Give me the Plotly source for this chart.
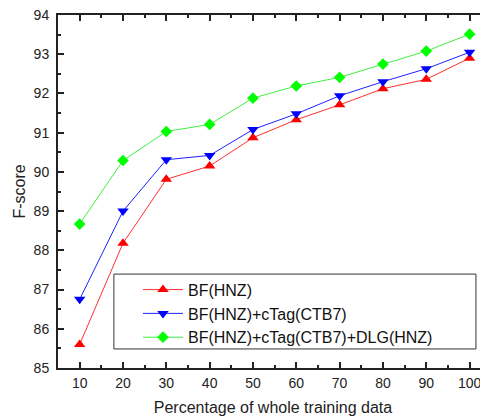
import plotly.graph_objects as go

x_pct = [10, 20, 30, 40, 50, 60, 70, 80, 90, 100]
bf_hnz = [85.60, 88.18, 89.81, 90.15, 90.87, 91.33, 91.71, 92.12, 92.36, 92.90]
bf_ctag = [86.75, 89.00, 90.31, 90.42, 91.08, 91.48, 91.94, 92.30, 92.63, 93.05]
bf_ctag_dlg = [88.67, 90.29, 91.03, 91.21, 91.88, 92.19, 92.41, 92.75, 93.08, 93.51]

names = ["BF(HNZ)", "BF(HNZ)+cTag(CTB7)", "BF(HNZ)+cTag(CTB7)+DLG(HNZ)"]
series = [bf_hnz, bf_ctag, bf_ctag_dlg]
line_colors = ["#ff3030", "#2020ff", "#40f040"]
marker_colors = ["#ff0000", "#0000ff", "#00ff00"]
symbols = ["triangle-up", "triangle-down", "diamond"]
sizes = [10, 10, 9]

fig = go.Figure()
for n, s, lc, mc, sym, sz in zip(names, series, line_colors, marker_colors, symbols, sizes):
    fig.add_trace(go.Scatter(
        x=x_pct, y=s, name=n, mode="lines+markers",
        line=dict(color=lc, width=1),
        marker=dict(symbol=sym, size=sz, color=mc, line=dict(width=0)),
    ))
# invisible trace to anchor right-side tick axis
fig.add_trace(go.Scatter(x=[x_pct[0]], y=[bf_hnz[0]], yaxis="y2", mode="markers",
                         marker=dict(opacity=0), showlegend=False, hoverinfo="skip"))

font_family = "Liberation Sans, Arial, sans-serif"
fig.update_layout(
    width=480, height=411,
    margin=dict(l=50, r=0, t=7, b=51),
    plot_bgcolor="white", paper_bgcolor="white",
    font=dict(family=font_family, color="#222222"),
    showlegend=True,
    legend=dict(
        x=0.186, y=0.270, xanchor="left", yanchor="top",
        borderwidth=0, bgcolor="rgba(0,0,0,0)",
        font=dict(size=16, family=font_family, color="#111111"),
        tracegroupgap=0, itemwidth=40,
    ),
    shapes=[dict(type="rect", xref="paper", yref="paper",
                 x0=0.130, x1=0.972, y0=0.054, y1=0.266,
                 line=dict(color="#333333", width=1), fillcolor="rgba(0,0,0,0)", layer="above")],
    xaxis=dict(
        range=[5, 104.25], tick0=10, dtick=10, automargin=False, ticklabeloverflow="allow",
        ticks="inside", ticklen=6, tickwidth=1.5, tickcolor="#222",
        showline=True, linewidth=2, linecolor="#222", mirror="ticks",
        showgrid=False, zeroline=False,
        minor=dict(ticks="inside", dtick=5, tick0=5, ticklen=3, tickwidth=1.5, tickcolor="#222", showgrid=False),
        tickfont=dict(size=14), ticklabelstandoff=1,
        title=dict(text="Percentage of whole training data", font=dict(size=16), standoff=12),
    ),
    yaxis=dict(
        range=[85, 94], tick0=85, dtick=1, automargin=False, ticklabeloverflow="allow",
        ticks="inside", ticklen=6, tickwidth=1.5, tickcolor="#222",
        showline=True, linewidth=2, linecolor="#222",
        showgrid=False, zeroline=False,
        minor=dict(ticks="inside", dtick=0.5, ticklen=3, tickwidth=1.5, tickcolor="#222", showgrid=False),
        tickfont=dict(size=14), ticklabelstandoff=4,
        title=dict(text="F-score", font=dict(size=16), standoff=4),
    ),
    yaxis2=dict(
        range=[85, 94], overlaying="y", side="right", tick0=85, dtick=1, automargin=False,
        ticks="inside", ticklen=6, tickwidth=1.5, tickcolor="#222",
        showline=False, showgrid=False, zeroline=False, showticklabels=False,
        minor=dict(ticks="inside", dtick=0.5, ticklen=3, tickwidth=1.5, tickcolor="#222", showgrid=False),
    ),
)

fig.write_html("out.html")
